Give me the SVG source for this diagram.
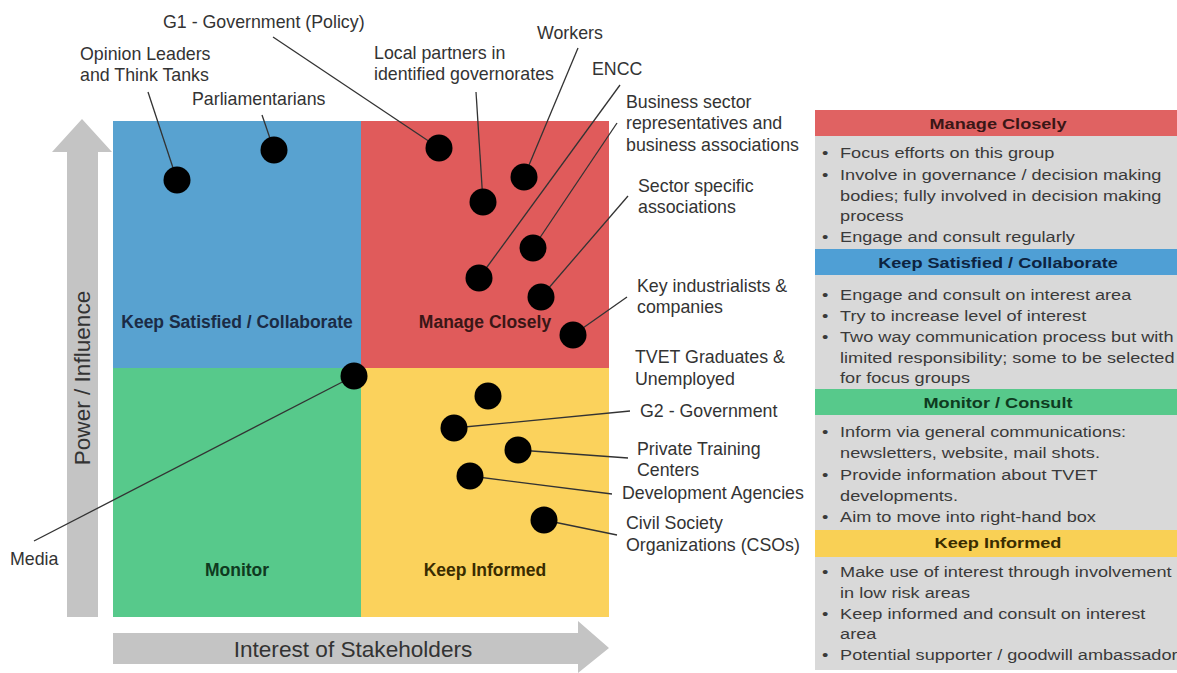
<svg xmlns="http://www.w3.org/2000/svg" width="1177" height="673" viewBox="0 0 1177 673">
<style>
.lbl{font-family:"Liberation Sans",Arial,sans-serif;font-size:17.8px;fill:#333}
.q{font-family:"Liberation Sans",Arial,sans-serif;font-size:17.5px;font-weight:bold;text-anchor:middle}
.ax{font-family:"Liberation Sans",Arial,sans-serif;font-size:22.6px;fill:#333;text-anchor:middle}
.dot{fill:#000}
.ln{stroke:#333;stroke-width:1.3;fill:none}
.ph{font-family:"Liberation Sans",Arial,sans-serif;font-size:15.5px;font-weight:bold;text-anchor:middle}
.pt{font-family:"Liberation Sans",Arial,sans-serif;font-size:15.5px;fill:#3a3a3a}
.arrow{fill:#c4c4c4}
</style>
<rect width="1177" height="673" fill="#fff"/>
<g id="axes">
<path class="arrow" d="M67 617 V152 H52 L82 119 L112 152 H98 V617 Z"/>
<text class="ax" transform="translate(90 378) rotate(-90)">Power / Influence</text>
<path class="arrow" d="M113 633 H578 V621 L609 648 L578 673 V664 H113 Z"/>
<text class="ax" x="353" y="657">Interest of Stakeholders</text>
</g>
<g id="quadrants">
<rect x="113" y="121" width="248" height="247" fill="#58a2d0"/>
<rect x="361" y="121" width="248" height="247" fill="#e05b5b"/>
<rect x="113" y="368" width="248" height="249" fill="#57c98b"/>
<rect x="361" y="368" width="248" height="249" fill="#fbd25c"/>
<text class="q" x="237" y="328" fill="#1b2b45">Keep Satisfied / Collaborate</text>
<text class="q" x="485" y="328" fill="#3a1616">Manage Closely</text>
<text class="q" x="237" y="576" fill="#0f3a1f">Monitor</text>
<text class="q" x="485" y="576" fill="#3a2c00">Keep Informed</text>
</g>
<g id="connectors">
<line class="ln" x1="148" y1="92" x2="177" y2="180"/>
<line class="ln" x1="262" y1="115" x2="274" y2="150"/>
<line class="ln" x1="273" y1="37" x2="439" y2="148"/>
<line class="ln" x1="476" y1="92" x2="483" y2="202"/>
<line class="ln" x1="578" y1="48" x2="524" y2="177"/>
<line class="ln" x1="620" y1="85" x2="479" y2="278"/>
<line class="ln" x1="617" y1="123" x2="533" y2="248"/>
<line class="ln" x1="628" y1="196" x2="541" y2="297"/>
<line class="ln" x1="627" y1="297" x2="573" y2="335"/>
<line class="ln" x1="34" y1="541" x2="354" y2="376"/>
<line class="ln" x1="630" y1="411" x2="454" y2="428"/>
<line class="ln" x1="628" y1="458" x2="518" y2="450"/>
<line class="ln" x1="612" y1="494" x2="470" y2="476"/>
<line class="ln" x1="617" y1="535" x2="544" y2="520"/>
</g>
<g id="opinion-leaders"><circle class="dot" cx="177" cy="180" r="13.5"/><text class="lbl" x="80" y="60">Opinion Leaders</text><text class="lbl" x="80" y="81">and Think Tanks</text></g>
<g id="parliamentarians"><circle class="dot" cx="274" cy="150" r="13.5"/><text class="lbl" x="192" y="105">Parliamentarians</text></g>
<g id="g1-government"><circle class="dot" cx="439" cy="148" r="13.5"/><text class="lbl" x="163" y="28">G1 - Government (Policy)</text></g>
<g id="local-partners"><circle class="dot" cx="483" cy="202" r="13.5"/><text class="lbl" x="374" y="59">Local partners in</text><text class="lbl" x="374" y="80">identified governorates</text></g>
<g id="workers"><circle class="dot" cx="524" cy="177" r="13.5"/><text class="lbl" x="537" y="39">Workers</text></g>
<g id="encc"><circle class="dot" cx="479" cy="278" r="13.5"/><text class="lbl" x="592" y="75">ENCC</text></g>
<g id="business-sector"><circle class="dot" cx="533" cy="248" r="13.5"/><text class="lbl" x="626" y="108">Business sector</text><text class="lbl" x="626" y="129">representatives and</text><text class="lbl" x="626" y="151">business associations</text></g>
<g id="sector-specific"><circle class="dot" cx="541" cy="297" r="13.5"/><text class="lbl" x="638" y="192">Sector specific</text><text class="lbl" x="638" y="213">associations</text></g>
<g id="key-industrialists"><circle class="dot" cx="573" cy="335" r="13.5"/><text class="lbl" x="637" y="292">Key industrialists &amp;</text><text class="lbl" x="637" y="313">companies</text></g>
<g id="media"><circle class="dot" cx="354" cy="376" r="13.5"/><text class="lbl" x="10" y="565">Media</text></g>
<g id="tvet-graduates"><circle class="dot" cx="488" cy="396" r="13.5"/><text class="lbl" x="635" y="363">TVET Graduates &amp;</text><text class="lbl" x="635" y="385">Unemployed</text></g>
<g id="g2-government"><circle class="dot" cx="454" cy="428" r="13.5"/><text class="lbl" x="640" y="417">G2 - Government</text></g>
<g id="private-training"><circle class="dot" cx="518" cy="450" r="13.5"/><text class="lbl" x="637" y="455">Private Training</text><text class="lbl" x="637" y="476">Centers</text></g>
<g id="development-agencies"><circle class="dot" cx="470" cy="476" r="13.5"/><text class="lbl" x="622" y="499">Development Agencies</text></g>
<g id="cso"><circle class="dot" cx="544" cy="520" r="13.5"/><text class="lbl" x="626" y="529">Civil Society</text><text class="lbl" x="626" y="551">Organizations (CSOs)</text></g>
<g id="panel">
<rect x="815" y="136" width="362" height="534" fill="#d9d9d9"/>
<rect x="815" y="110" width="362" height="26" fill="#e06262"/>
<rect x="815" y="249" width="362" height="26" fill="#4f9fd5"/>
<rect x="815" y="389" width="362" height="26" fill="#57c98b"/>
<rect x="815" y="530" width="362" height="27" fill="#f9d055"/>
<g transform="scale(1.17 1)">
<text class="ph" x="853" y="129" fill="#3a1616">Manage Closely</text>
<text class="pt" x="702.6" y="158">•</text><text class="pt" x="718" y="158">Focus efforts on this group</text>
<text class="pt" x="702.6" y="180">•</text><text class="pt" x="718" y="180">Involve in governance / decision making</text>
<text class="pt" x="718" y="201">bodies; fully involved in decision making</text>
<text class="pt" x="718" y="221">process</text>
<text class="pt" x="702.6" y="242">•</text><text class="pt" x="718" y="242">Engage and consult regularly</text>
<text class="ph" x="853" y="268" fill="#0d2340">Keep Satisfied / Collaborate</text>
<text class="pt" x="702.6" y="300">•</text><text class="pt" x="718" y="300">Engage and consult on interest area</text>
<text class="pt" x="702.6" y="321">•</text><text class="pt" x="718" y="321">Try to increase level of interest</text>
<text class="pt" x="702.6" y="342">•</text><text class="pt" x="718" y="342">Two way communication process but with</text>
<text class="pt" x="718" y="363">limited responsibility; some to be selected</text>
<text class="pt" x="718" y="383">for focus groups</text>
<text class="ph" x="853" y="408" fill="#0e3b1f">Monitor / Consult</text>
<text class="pt" x="702.6" y="437">•</text><text class="pt" x="718" y="437">Inform via general communications:</text>
<text class="pt" x="718" y="458">newsletters, website, mail shots.</text>
<text class="pt" x="702.6" y="480">•</text><text class="pt" x="718" y="480">Provide information about TVET</text>
<text class="pt" x="718" y="501">developments.</text>
<text class="pt" x="702.6" y="522">•</text><text class="pt" x="718" y="522">Aim to move into right-hand box</text>
<text class="ph" x="853" y="548" fill="#3a2c00">Keep Informed</text>
<text class="pt" x="702.6" y="577">•</text><text class="pt" x="718" y="577">Make use of interest through involvement</text>
<text class="pt" x="718" y="598">in low risk areas</text>
<text class="pt" x="702.6" y="619">•</text><text class="pt" x="718" y="619">Keep informed and consult on interest</text>
<text class="pt" x="718" y="639">area</text>
<text class="pt" x="702.6" y="660">•</text><text class="pt" x="718" y="660">Potential supporter / goodwill ambassador</text>
</g>
</g>
</svg>
